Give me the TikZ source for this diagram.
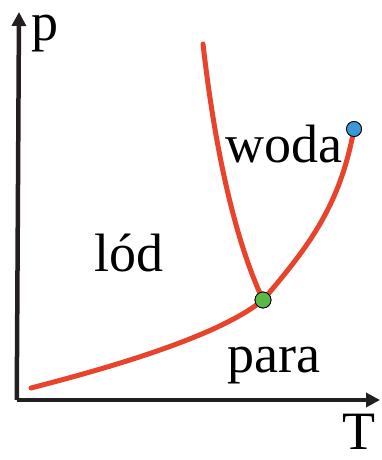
\documentclass[tikz,border=0pt]{standalone}
\usepackage{fontspec}
\setmainfont{Liberation Serif}
\usetikzlibrary{arrows.meta}
\definecolor{curvered}{HTML}{E8432B}
\definecolor{axisblack}{HTML}{231F20}
\definecolor{dotgreen}{HTML}{5BB847}
\definecolor{dotblue}{HTML}{3A98D8}
\begin{document}
\begin{tikzpicture}[x=1pt,y=-1pt,
  axis/.style={line width=4.5pt,color=axisblack,-{Triangle[length=14pt,width=14pt]}},
  phase/.style={line width=5pt,color=curvered,line cap=round},
  lbl/.style={font=\fontsize{54}{60}\selectfont,inner sep=0pt,text=black},
  pt/.style={circle,draw=black,line width=0.8pt,inner sep=0pt}]
\useasboundingbox (0,0) rectangle (381,460);
\coordinate (O) at (19,400);
\coordinate (ytop) at (19,12);
\coordinate (xend) at (380,400);
\draw[axis] (16.75,400) -- (ytop);
\draw[axis] (O) ++(-2.25,0) -- (xend);
\node[pt,fill=dotgreen,minimum size=16pt] (tp) at (263,300) {};
\node[pt,fill=dotblue,minimum size=15pt] (cp) at (354,129) {};
\coordinate (s0) at (31,388);
\coordinate (m0) at (203,44);
\draw[phase] (s0) .. controls (120,365) and (220,335) .. (tp.center);
\draw[phase] (m0) .. controls (215,150) and (235,240) .. (tp.center);
\draw[phase] (tp.center) .. controls (310,245) and (340,205) .. (cp.center);
\node[pt,fill=dotgreen,minimum size=16pt] at (tp) {};
\node[pt,fill=dotblue,minimum size=15pt] at (cp) {};
\node[lbl,anchor=base west] (p) at (31,41) {p};
\node[lbl,anchor=base east] (T) at (376,449) {T};
\node[lbl,anchor=base west] (woda) at (225,162) {woda};
\node[lbl,anchor=base west] (lod) at (94,271) {lód};
\node[lbl,anchor=base west] (para) at (227,372) {para};
\end{tikzpicture}
\end{document}
